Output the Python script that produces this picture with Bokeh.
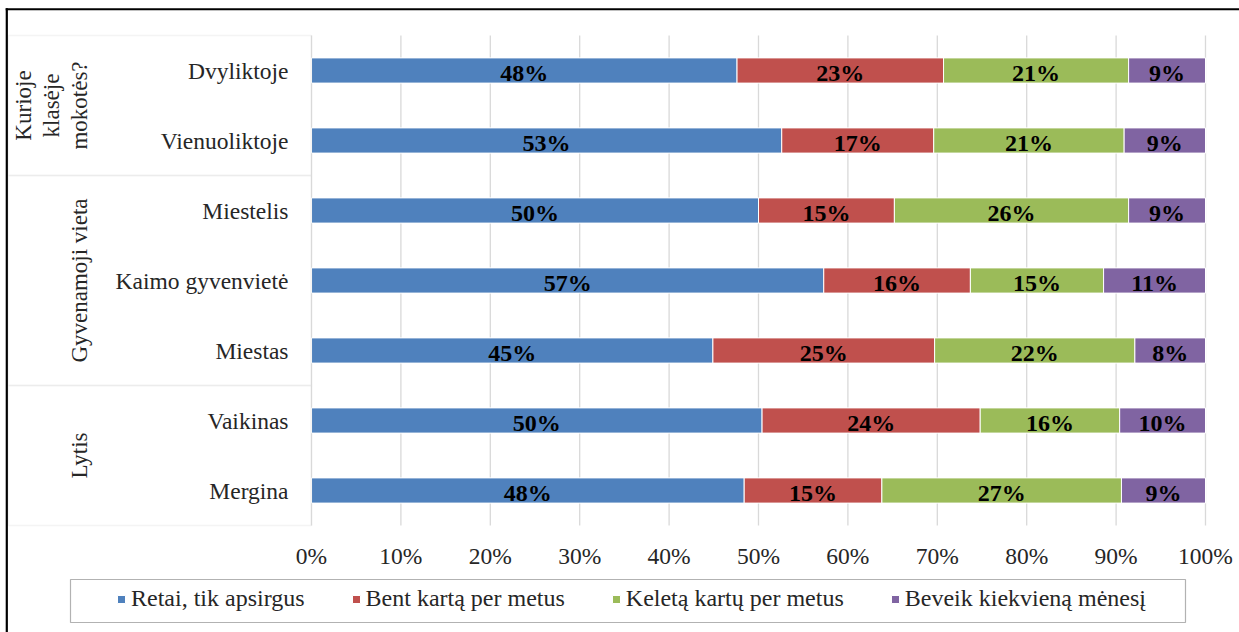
from bokeh.plotting import figure
from bokeh.models import (ColumnDataSource, Range1d, FixedTicker, PrintfTickFormatter,
                          Label, BoxAnnotation, Legend, LegendItem)
from bokeh.core.properties import value
from bokeh.embed import file_html
from bokeh.resources import INLINE

# Categories, listed bottom to top
categories = ["Mergina", "Vaikinas", "Miestas", "Kaimo gyvenvietė", "Miestelis",
              "Vienuoliktoje", "Dvyliktoje"]
# Group labels and how many categories each covers (bottom to top)
groups = ["Lytis", "Gyvenamoji vieta", "Kurioje klasėje mokotės?"]
group_sizes = [2, 3, 2]

series_names = ["Retai, tik apsirgus", "Bent kartą per metus",
                "Keletą kartų per metus", "Beveik kiekvieną mėnesį"]
retai = [48.4, 50.4, 44.9, 57.3, 50.0, 52.6, 47.6]
bent = [15.4, 24.4, 24.8, 16.4, 15.2, 17.0, 23.1]
keleta = [26.8, 15.6, 22.4, 14.9, 26.2, 21.3, 20.7]
beveik = [9.4, 9.6, 7.9, 11.4, 8.6, 9.1, 8.6]

x_ticks = list(range(0, 101, 10))

colors = ["#4F81BD", "#C0504D", "#9BBB59", "#8064A2"]
FONT = "Liberation Serif"
TXT = "#262626"
GRID = "#d9d9d9"

W, H = 1239, 632
# pixel extent of the bar area inside the canvas
PL, PR, PT, PB = 311, 1205, 35, 525
n = len(categories)
ux = (PR - PL) / 100.0          # pixels per percent
uy = (PB - PT) / n              # pixels per category


def sx(px):
    # canvas column -> x data coordinate
    return (px - PL) / ux


def sy(py):
    # canvas row -> y data coordinate
    return (PB - py) / uy


ypos = [i + 0.5 for i in range(n)]
keys = ["s0", "s1", "s2", "s3"]
series = [retai, bent, keleta, beveik]
data = {"y": ypos, "cat": categories}
for k, s in zip(keys, series):
    data[k] = s
src = ColumnDataSource(data)

p = figure(width=W, height=H, x_range=Range1d(sx(0), sx(W)), y_range=Range1d(sy(H), sy(0)),
           output_backend="svg", toolbar_location=None, title=None,
           min_border=0, min_border_left=0, min_border_right=0,
           min_border_top=0, min_border_bottom=0)
p.outline_line_color = None
p.background_fill_color = "white"
p.border_fill_color = "white"
p.xgrid.visible = False
p.ygrid.visible = False

# vertical grid lines across the bar area
p.segment(x0=x_ticks, x1=x_ticks, y0=[0] * len(x_ticks), y1=[n] * len(x_ticks),
          line_color=GRID, line_width=1.3)

renderers = p.hbar_stack(keys, y="y", height=0.36, color=colors, source=src,
                         line_color="white", line_width=1)

# value labels centred in each segment
left = [0.0] * n
for k, s in zip(keys, series):
    mids = [l + v / 2 for l, v in zip(left, s)]
    labs = [f"{round(v):d}%" for v in s]
    p.text(x=mids, y=ypos, text=labs, text_align="center", text_baseline="middle",
           y_offset=2, text_font=value(FONT), text_font_style="bold",
           text_font_size="24px", text_color="black")
    left = [l + v for l, v in zip(left, s)]

# axes pinned to the bar area edges
xa = p.xaxis[0]
xa.fixed_location = 0
xa.ticker = FixedTicker(ticks=x_ticks)
xa.formatter = PrintfTickFormatter(format="%d%%")
xa.axis_line_color = None
xa.major_tick_line_color = None
xa.minor_tick_line_color = None
xa.major_tick_out = 0
xa.major_tick_in = 0
xa.minor_tick_out = 0
xa.major_label_standoff = 17
xa.major_label_text_font = FONT
xa.major_label_text_font_size = "23.5px"
xa.major_label_text_color = TXT

ya = p.yaxis[0]
ya.fixed_location = 0
ya.ticker = FixedTicker(ticks=ypos)
ya.major_label_overrides = {y: c for y, c in zip(ypos, categories)}
ya.axis_line_color = None
ya.major_tick_line_color = None
ya.minor_tick_line_color = None
ya.major_tick_out = 0
ya.major_tick_in = 0
ya.minor_tick_out = 0
ya.major_label_standoff = 23
ya.major_label_text_font = FONT
ya.major_label_text_font_size = "23.5px"
ya.major_label_text_color = TXT

# group boxes in the category panel
start = 0
for g, cnt in zip(groups, group_sizes):
    p.add_layout(BoxAnnotation(left=sx(8), right=0, bottom=start, top=start + cnt,
                               fill_color=None, line_color=GRID, line_width=1.3))
    start += cnt

# group names, rotated
gl = dict(angle=90, angle_units="deg", text_align="center", text_baseline="middle",
          text_font=FONT, text_font_size="23px", text_color=TXT)
p.add_layout(Label(x=sx(79), y=1.0, text=groups[0], **gl))
p.add_layout(Label(x=sx(79), y=3.5, text=groups[1], **gl))
for px, line in zip([23, 51, 79], ["Kurioje", "klasėje", "mokotės?"]):
    p.add_layout(Label(x=sx(px), y=6.0, text=line, **gl))

# outer frame: left and top edges
p.add_layout(BoxAnnotation(left=sx(5.2), right=sx(7.4), top=sy(7.7), bottom=sy(700),
                           fill_color="black", fill_alpha=1, line_color=None))
p.add_layout(BoxAnnotation(left=sx(5.2), right=sx(1300), top=sy(7.7), bottom=sy(9.8),
                           fill_color="black", fill_alpha=1, line_color=None))

# legend box
p.add_layout(BoxAnnotation(left=sx(70), right=sx(1185), top=sy(579), bottom=sy(622),
                           fill_color=None, line_color="black", line_width=1.2))

legend = Legend(items=[LegendItem(label=nm, renderers=[r]) for nm, r in zip(series_names, renderers)],
                orientation="horizontal", location=(116, 20),
                border_line_color=None, background_fill_alpha=0,
                glyph_width=10, glyph_height=10, label_standoff=5, spacing=46,
                padding=0, margin=0, label_text_font=FONT, label_text_font_size="24px",
                label_text_color=TXT)
p.add_layout(legend)

open("out.html", "w").write(file_html(p, INLINE))
